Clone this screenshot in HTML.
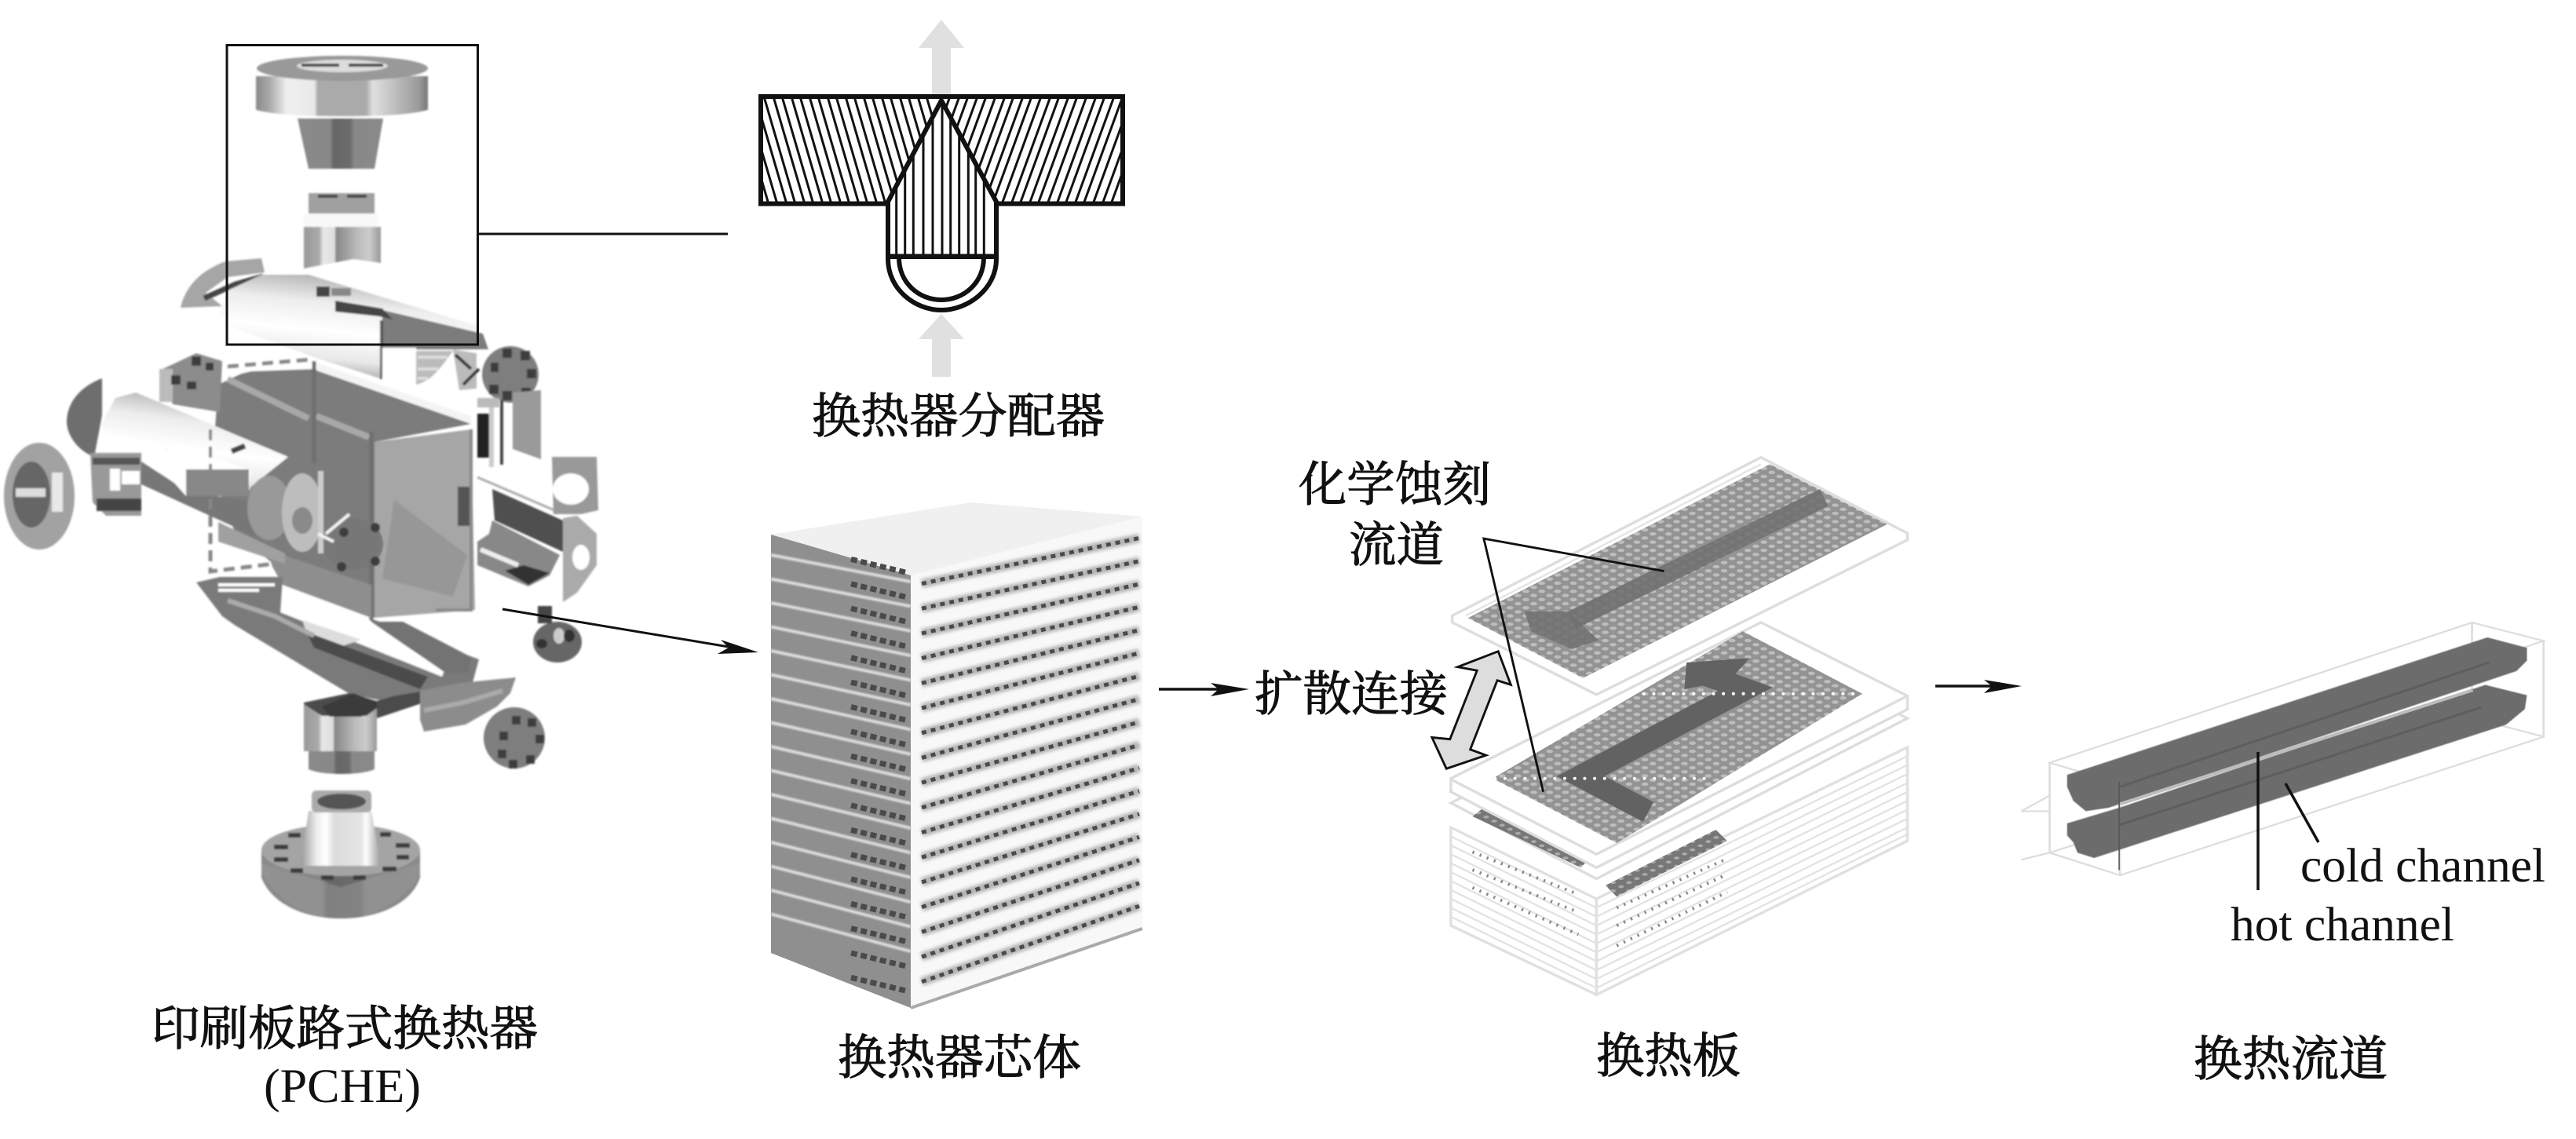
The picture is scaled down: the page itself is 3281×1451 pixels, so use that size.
<!DOCTYPE html>
<html><head><meta charset="utf-8"><style>
html,body{margin:0;padding:0;background:#fff}
svg{display:block}
.c{font-family:"Liberation Serif","Noto Serif CJK SC",serif;font-size:61px;fill:#111}
.k{stroke:#111;stroke-width:1.1}
</style></head><body>
<svg xmlns="http://www.w3.org/2000/svg" width="3281" height="1451" viewBox="0 0 3281 1451">
<defs>
<linearGradient id="m"><stop offset="0" stop-color="#8a8a8a"/><stop offset=".08" stop-color="#aaa"/><stop offset=".18" stop-color="#f0f0f0"/><stop offset=".34" stop-color="#e8e8e8"/><stop offset=".36" stop-color="#aaa"/><stop offset=".64" stop-color="#aaa"/><stop offset=".68" stop-color="#e0e0e0"/><stop offset=".82" stop-color="#bbb"/><stop offset=".95" stop-color="#999"/><stop offset="1" stop-color="#777"/></linearGradient>
<linearGradient id="h"><stop offset="0" stop-color="#999"/><stop offset=".2" stop-color="#eee"/><stop offset=".32" stop-color="#fff"/><stop offset=".42" stop-color="#ddd"/><stop offset=".75" stop-color="#e4e4e4"/><stop offset=".82" stop-color="#fff"/><stop offset="1" stop-color="#999"/></linearGradient>
<linearGradient id="r"><stop offset="0" stop-color="#999"/><stop offset=".2" stop-color="#aaa"/><stop offset=".25" stop-color="#e8e8e8"/><stop offset=".4" stop-color="#ddd"/><stop offset=".42" stop-color="#888"/><stop offset=".7" stop-color="#bbb"/><stop offset=".85" stop-color="#ccc"/><stop offset="1" stop-color="#999"/></linearGradient>
<linearGradient id="d"><stop offset="0" stop-color="#8a8a8a"/><stop offset=".38" stop-color="#888"/><stop offset=".42" stop-color="#666"/><stop offset=".62" stop-color="#6c6c6c"/><stop offset=".66" stop-color="#888"/><stop offset="1" stop-color="#8a8a8a"/></linearGradient>
<linearGradient id="t" x1=".6" y1="0" x2=".35" y2="1"><stop offset="0" stop-color="#aaa"/><stop offset=".3" stop-color="#eee"/><stop offset=".55" stop-color="#fff"/><stop offset=".8" stop-color="#e8e8e8"/><stop offset="1" stop-color="#999"/></linearGradient>
<linearGradient id="sr" x1=".6" y1="0" x2=".35" y2="1"><stop offset="0" stop-color="#888"/><stop offset=".5" stop-color="#555"/><stop offset="1" stop-color="#777"/></linearGradient>
<pattern id="g" patternUnits="userSpaceOnUse" width="20" height="20" patternTransform="matrix(.88 -.46 .88 .46 0 0)"><rect width="20" height="20" fill="#939393"/><circle cx="10" cy="10" r="6" fill="#bdbdbd"/></pattern>
<pattern id="g2" patternUnits="userSpaceOnUse" width="20" height="20" patternTransform="matrix(.88 -.46 .88 .46 0 0)"><rect width="20" height="20" fill="#777"/><circle cx="10" cy="10" r="5" fill="#aaa"/></pattern>
<filter id="b"><feGaussianBlur stdDeviation="2.2"/></filter>
<filter id="b1"><feGaussianBlur stdDeviation="1"/></filter>
<clipPath id="hl"><rect x="972" y="123" width="226" height="137"/></clipPath>
<clipPath id="hr"><rect x="1198" y="123" width="230" height="137"/></clipPath>
</defs>
<rect width="3281" height="1451" fill="#fff"/>

<!-- Exploded PCHE -->
<g filter="url(#b1)">
 <!-- top flange -->
 <path d="M326 97V140C350 146 380 148 436 148C492 148 522 146 545 140V97Z" fill="url(#m)"/>
 <ellipse cx="436" cy="87" rx="109" ry="16" fill="#999"/>
 <ellipse cx="436" cy="84" rx="58" ry="8" fill="#ddd"/>
 <path d="M384 83H432M444 83H488" stroke="#444" stroke-width="4"/>
 <polygon points="379,151 488,151 477,215 393,215" fill="url(#d)"/>
 <!-- ring -->
 <rect x="393" y="246" width="84" height="26" fill="#a0a0a0"/>
 <path d="M405 250H430M442 250H467" stroke="#444" stroke-width="4"/>
 <rect x="387" y="272" width="94" height="17" fill="#f8f8f8"/>
 <path d="M387 289H485V335L450 330L387 342Z" fill="url(#r)"/>
 <!-- saddle upper left -->
 <path d="M230 392C236 365 255 345 287 333L333 329L337 347L290 353L262 373L283 390Z" fill="#a6a6a6"/>
 <path d="M260 380L300 362L335 352" stroke="#444" stroke-width="7" fill="none"/>
 <!-- upper tube -->
 <polygon points="278,408 290,370 333,350 393,350 608,415 608,440 487,445 487,483 400,455 290,415" fill="url(#t)"/>
 <polygon points="487,395 615,425 622,445 487,445" fill="#7c7c7c"/>
 <polygon points="427,383 487,393 500,407 483,403 427,397" fill="#444"/>
 <rect x="403" y="365" width="17" height="13" fill="#444"/>
 <rect x="422" y="367" width="25" height="10" fill="#888"/>
 <path d="M486 408V483" stroke="#555" stroke-width="4"/>
 <path d="M487 443H530V485H487Z" fill="#fff"/>
 <path d="M530 447H577C560 470 550 485 530 490Z" fill="#bbb"/>
 <path d="M532 455H570M532 470H558M532 482H545" stroke="#ddd" stroke-width="4"/>
 <path d="M577 445L607 450V495L585 497Z" fill="#bbb"/>
 <path d="M580 452L600 470M590 490L610 470" stroke="#333" stroke-width="4"/>
 <!-- right flange -->
 <circle cx="650" cy="477" r="36" fill="#7e7e7e"/>
 <g fill="#3c3c3c"><rect x="640" y="444" width="12" height="12"/><rect x="663" y="447" width="12" height="12"/><rect x="671" y="470" width="12" height="12"/><rect x="664" y="494" width="12" height="12"/><rect x="640" y="498" width="12" height="12"/><rect x="623" y="490" width="12" height="12"/><rect x="625" y="462" width="10" height="12"/></g>
 <polygon points="653,500 689,497 689,585 653,572" fill="#9a9a9a"/>
 <rect x="608" y="527" width="15" height="56" fill="#222"/>
 <rect x="623" y="515" width="6" height="80" fill="#ccc"/><rect x="637" y="510" width="4" height="82" fill="#444"/>
 <rect x="608" y="507" width="28" height="12" fill="#bbb"/>
 <!-- box -->
 <polygon points="278,490 320,470 403,470 600,540 477,563 477,787 395,755 300,680 270,600" fill="#7c7c7c"/>
 <polygon points="403,462 600,530 600,540 403,472" fill="#f4f4f4"/>
 <polygon points="290,467 403,458 403,470 320,473 290,480" fill="#fff"/>
 <path d="M290 483L393 533M403 530L470 557" stroke="#a8a8a8" stroke-width="8"/>
 <polygon points="477,563 600,547 605,777 477,787" fill="#a6a6a6"/>
 <polygon points="502,637 595,707 577,760 487,737" fill="#979797"/>
 <rect x="583" y="620" width="17" height="50" fill="#555"/>
 <path d="M600 547V777H555" stroke="#8a8a8a" stroke-width="4" fill="none"/>
 <path d="M473 550V790M400 460V590" stroke="#6e6e6e" stroke-width="5"/>
 <path d="M268 547V728L350 718M290 467L397 458" stroke="#888" stroke-width="5" stroke-dasharray="14 8" fill="none"/>
 <polygon points="340,700 473,745 473,787 360,745 347,722" fill="#8e8e8e"/>
 <polygon points="278,665 363,705 363,718 278,690" fill="#a0a0a0"/>
 <!-- upper-left bolted piece -->
 <polygon points="203,472 250,450 283,460 280,525 220,515" fill="#8c8c8c"/>
 <rect x="203" y="470" width="17" height="42" fill="#bbb"/>
 <g fill="#3c3c3c"><rect x="244" y="454" width="12" height="12"/><rect x="262" y="462" width="10" height="10"/><rect x="218" y="478" width="12" height="12"/><rect x="238" y="486" width="12" height="10"/></g>
 <!-- left tube -->
 <path d="M130 482C95 495 85 520 85 537C85 555 100 575 120 582L128 540L130 528Z" fill="#6e6e6e"/>
 <polygon points="180,588 237,625 322,640 322,682 180,617" fill="#777"/>
 <polygon points="128,543 147,507 173,500 367,582 320,620 315,630 240,600 200,565 135,552" fill="url(#t)"/>
 <polygon points="200,590 225,563 320,600 315,632 237,632" fill="#fff"/>
 <rect x="237" y="598" width="80" height="34" fill="#888"/>
 <path d="M295 575L312 568" stroke="#444" stroke-width="7"/>
 <path d="M268 547V650" stroke="#888" stroke-width="4" stroke-dasharray="14 8"/>
 <ellipse cx="343" cy="647" rx="28" ry="41" fill="#999"/>
 <ellipse cx="385" cy="653" rx="26" ry="50" fill="#bdbdbd"/>
 <ellipse cx="385" cy="663" rx="13" ry="17" fill="#8a8a8a"/>
 <rect x="405" y="600" width="7" height="105" fill="#ccc"/>
 <ellipse cx="450" cy="693" rx="38" ry="33" fill="#777"/>
 <path d="M405 680L425 690M415 680L445 655" stroke="#f4f4f4" stroke-width="4"/>
 <g fill="#3c3c3c"><circle cx="478" cy="672" r="6"/><circle cx="478" cy="715" r="6"/><circle cx="438" cy="678" r="6"/><circle cx="435" cy="722" r="6"/></g>
 <!-- small ring -->
 <path d="M115 577H180V657H135L118 640Z" fill="#999"/>
 <rect x="140" y="597" width="13" height="28" fill="#fff"/><rect x="155" y="600" width="23" height="17" fill="#fff"/>
 <rect x="123" y="635" width="57" height="16" fill="#444"/>
 <rect x="118" y="583" width="60" height="9" fill="#555"/>
 <!-- left flange -->
 <ellipse cx="50" cy="632" rx="45" ry="68" fill="#a2a2a2"/>
 <ellipse cx="40" cy="630" rx="24" ry="42" fill="#666"/>
 <rect x="20" y="622" width="38" height="11" fill="#ddd"/>
 <rect x="66" y="602" width="14" height="50" fill="#e8e8e8"/>
 <!-- right tube -->
 <path d="M608 608L713 653" stroke="#aaa" stroke-width="3"/>
 <polygon points="627,623 717,663 717,703 630,663" fill="#505050"/>
 <polygon points="627,663 713,707 700,733 673,747 608,720 608,690 623,680" fill="#888"/>
 <polygon points="643,727 667,720 700,730 673,745" fill="#333"/>
 <path d="M612 700L660 720" stroke="#eee" stroke-width="6"/>
 <path d="M703 582H760L762 650L740 655H705Z" fill="#999"/>
 <ellipse cx="727" cy="623" rx="23" ry="20" fill="#fff"/>
 <polygon points="717,660 735,657 760,680 760,720 735,755 717,767" fill="#aaa"/>
 <ellipse cx="740" cy="710" rx="11" ry="16" fill="#fff"/>
 <!-- small valve -->
 <ellipse cx="710" cy="818" rx="31" ry="26" fill="#666"/>
 <ellipse cx="712" cy="810" rx="7" ry="10" fill="#ccc"/>
 <rect x="685" y="772" width="18" height="22" fill="#444"/>
 <ellipse cx="725" cy="810" rx="7" ry="8" fill="#333"/>
 <ellipse cx="690" cy="820" rx="7" ry="6" fill="#333"/>
 <!-- lower tube -->
 <polygon points="250,742 280,735 360,735 357,780 567,857 600,837 513,792 473,792 470,787 610,840 595,895 500,895 447,885 300,797 283,785" fill="#7a7a7a"/>
 <polygon points="357,780 383,775 473,805 567,850 563,862" fill="#fff"/>
 <polygon points="385,790 460,815 430,825 390,805" fill="#ddd"/>
 <polygon points="390,805 545,862 535,878 400,825" fill="#4c4c4c"/>
 <polygon points="473,792 513,792 600,837 597,857 567,857" fill="#737373"/>
 <path d="M278 745H350M278 752H330" stroke="#fff" stroke-width="4"/>
 <path d="M290 765L350 785L400 810" stroke="#aaa" stroke-width="6" fill="none"/>
 <!-- lower ring -->
 <polygon points="387,895 445,883 480,893 500,887 540,880 540,895 480,915 410,915 387,905" fill="#4c4c4c"/>
 <path d="M387 897L410 912H467L480 902V957H387Z" fill="url(#r)"/>
 <polygon points="410,900 450,883 480,895 480,902 460,913 420,913" fill="#3a3a3a"/>
 <path d="M393 957H477V980C460 988 410 988 393 980Z" fill="url(#d)"/>
 <!-- side saddle + flange -->
 <polygon points="535,880 587,870 657,863 650,883 633,900 593,923 540,932 535,917" fill="#8c8c8c"/>
 <path d="M540 905L590 895L640 880" stroke="#aaa" stroke-width="6" fill="none"/>
 <circle cx="655" cy="940" r="39" fill="#7e7e7e"/>
 <g fill="#3c3c3c"><rect x="652" y="912" width="11" height="11"/><rect x="672" y="915" width="11" height="11"/><rect x="682" y="936" width="11" height="11"/><rect x="670" y="962" width="11" height="11"/><rect x="648" y="968" width="11" height="11"/><rect x="634" y="955" width="11" height="11"/><rect x="636" y="932" width="11" height="11"/></g>
 <!-- bottom flange -->
 <path d="M333 1085V1118C345 1150 385 1170 434 1170C483 1170 525 1150 535 1118V1085Z" fill="url(#d)"/>
 <path d="M333 1110C345 1140 385 1170 434 1170C483 1170 525 1140 535 1110V1100L434 1130L333 1100Z" fill="#999" opacity=".5"/>
 <ellipse cx="434" cy="1083" rx="101" ry="33" fill="#a4a4a4"/>
 <g fill="#3c3c3c"><rect x="367" y="1061" width="16" height="6"/><rect x="349" y="1076" width="18" height="6"/><rect x="349" y="1092" width="18" height="6"/><rect x="370" y="1106" width="16" height="6"/><rect x="409" y="1115" width="16" height="6"/><rect x="450" y="1115" width="16" height="6"/><rect x="487" y="1104" width="18" height="6"/><rect x="504" y="1074" width="18" height="6"/><rect x="505" y="1089" width="16" height="6"/><rect x="484" y="1060" width="14" height="6"/></g>
 <polygon points="393,1033 473,1033 485,1103 383,1103" fill="url(#h)"/>
 <rect x="397" y="1007" width="76" height="28" rx="6" fill="#aaa"/>
 <ellipse cx="435" cy="1021" rx="31" ry="10" fill="#555"/>
</g>

<!-- box + connector -->
<rect x="289" y="57.5" width="319.5" height="381.5" fill="none" stroke="#111" stroke-width="3"/>
<line x1="609" y1="298" x2="927" y2="298" stroke="#111" stroke-width="3"/>
<!-- arrow 1 -->
<line x1="640" y1="776" x2="940" y2="826" stroke="#111" stroke-width="3"/>
<polygon points="966,831 918,815 928,825 914,833" fill="#111"/>

<!-- weld cross-section -->
<polygon points="1187,120 1211,120 1211,61 1228,61 1199,25 1170,61 1187,61" fill="#e0e0e0"/>
<polygon points="1187,480 1211,480 1211,432 1228,432 1199,400 1170,432 1187,432" fill="#e0e0e0"/>
<g clip-path="url(#hl)" stroke="#111" stroke-width="3">
<path d="M939 123L979 260M950 123L990 260M962 123L1002 260M973 123L1013 260M985 123L1025 260M996 123L1036 260M1008 123L1048 260M1019 123L1059 260M1031 123L1071 260M1042 123L1082 260M1054 123L1094 260M1065 123L1105 260M1077 123L1117 260M1088 123L1128 260M1100 123L1140 260M1111 123L1151 260M1123 123L1163 260M1134 123L1174 260M1146 123L1186 260M1157 123L1197 260M1169 123L1209 260M1180 123L1220 260"/>
</g>
<g clip-path="url(#hr)" stroke="#111" stroke-width="3">
<path d="M1210 123L1160 260M1222 123L1172 260M1233 123L1183 260M1245 123L1195 260M1256 123L1206 260M1268 123L1218 260M1280 123L1230 260M1291 123L1241 260M1303 123L1253 260M1314 123L1264 260M1326 123L1276 260M1338 123L1288 260M1349 123L1299 260M1361 123L1311 260M1372 123L1322 260M1384 123L1334 260M1396 123L1346 260M1407 123L1357 260M1419 123L1369 260M1430 123L1380 260M1442 123L1392 260M1454 123L1404 260M1465 123L1415 260M1477 123L1427 260"/>
</g>
<rect x="969" y="123" width="461" height="136.5" fill="none" stroke="#111" stroke-width="6"/>
<polygon points="1199,130 1269,257 1269,328 1131,328 1131,257" fill="#fff"/>
<rect x="1134" y="255" width="132" height="8" fill="#fff"/>
<path d="M1141.7 237V327M1152.7 216V327M1163.3 197V327M1176 173V327M1188 150V327M1200 130V327M1210.7 152V327M1221.7 172V327M1233.3 194V327M1242.7 212V327M1253.3 232V327" stroke="#111" stroke-width="3"/>
<path d="M1199 128L1131 257V330C1131 368 1165 395 1199 395C1233 395 1269 368 1269 330V257Z" fill="none" stroke="#111" stroke-width="6" stroke-linejoin="round"/>
<path d="M1145 328C1145 360 1170 382 1199 382C1228 382 1253 360 1253 328" fill="none" stroke="#111" stroke-width="6"/>
<rect x="1131" y="323.5" width="138" height="6.5" fill="#111"/>
<text class="c k" x="1034" y="551" textLength="373" lengthAdjust="spacingAndGlyphs">换热器分配器</text>

<!-- core -->
<polygon points="982,681 1237,640 1455,658 1160,733" fill="#f0f0f0"/>
<polygon points="982,681 1160,733 1160,1284 982,1214" fill="#8f8f8f"/>
<polygon points="1160,733 1455,658 1455,1183 1160,1284" fill="#f8f8f8"/>
<path d="M982 707L1160 741M982 737.5L1160 772.4M982 768L1160 803.8M982 798.5L1160 835.2M982 829L1160 866.6M982 859.5L1160 898M982 890L1160 929.4M982 920.5L1160 960.8M982 951L1160 992.2M982 981.5L1160 1023.6M982 1012L1160 1055M982 1042.5L1160 1086.4M982 1073L1160 1117.8M982 1103.5L1160 1149.2M982 1134L1160 1180.6M982 1164.5L1160 1212" stroke="#dcdcdc" stroke-width="4" fill="none" filter="url(#b1)"/>
<path d="M1084 712.4L1153 729M1084 743.8L1153 760.4M1084 775.1L1153 791.7M1084 806.5L1153 823.1M1084 837.8L1153 854.4M1084 869.2L1153 885.8M1084 900.5L1153 917.1M1084 931.9L1153 948.5M1084 963.2L1153 979.8M1084 994.6L1153 1011.2M1084 1025.9L1153 1042.5M1084 1057.3L1153 1073.9M1084 1088.6L1153 1105.2M1084 1119.9L1153 1136.5M1084 1151.3L1153 1167.9M1084 1182.6L1153 1199.2M1084 1214L1153 1230.6M1084 1245.3L1153 1261.9" stroke="#4a4a4a" stroke-width="7" stroke-dasharray="8 4.6" fill="none"/>
<path d="M1174 743.5L1451 685.5M1174 775.2L1451 714.8M1174 806.9L1451 744.1M1174 838.6L1451 773.4M1174 870.3L1451 802.7M1174 902L1451 832M1174 933.7L1451 861.3M1174 965.4L1451 890.6M1174 997.1L1451 919.9M1174 1028.8L1451 949.2M1174 1060.5L1451 978.5M1174 1092.2L1451 1007.8M1174 1123.9L1451 1037.1M1174 1155.6L1451 1066.4M1174 1187.3L1451 1095.7M1174 1219L1451 1125M1174 1250.7L1451 1154.3" stroke="#b4b4b4" stroke-width="11" fill="none" filter="url(#b)"/>
<path d="M1174 743.5L1451 685.5M1174 775.2L1451 714.8M1174 806.9L1451 744.1M1174 838.6L1451 773.4M1174 870.3L1451 802.7M1174 902L1451 832M1174 933.7L1451 861.3M1174 965.4L1451 890.6M1174 997.1L1451 919.9M1174 1028.8L1451 949.2M1174 1060.5L1451 978.5M1174 1092.2L1451 1007.8M1174 1123.9L1451 1037.1M1174 1155.6L1451 1066.4M1174 1187.3L1451 1095.7M1174 1219L1451 1125M1174 1250.7L1451 1154.3" stroke="#4a4a4a" stroke-width="5" stroke-dasharray="6 6" fill="none"/>
<path d="M1160 1284L1455 1183" stroke="#aaa" stroke-width="4"/>
<text class="c k" x="1067" y="1368" textLength="310" lengthAdjust="spacingAndGlyphs">换热器芯体</text>

<!-- arrow 2 -->
<line x1="1476" y1="878" x2="1560" y2="878" stroke="#111" stroke-width="3.5"/>
<polygon points="1591,878 1542,870 1552,878 1542,887" fill="#111"/>
<text class="c k" x="1598" y="905" textLength="246" lengthAdjust="spacingAndGlyphs">扩散连接</text>

<!-- plates -->
<g transform="translate(1600 560) scale(.574 .568)">
 <g fill="#fff" stroke="#e0e0e0" stroke-width="6">
  <polygon points="432,870 755,1030 755,1245 432,1090"/>
  <polygon points="755,1030 1445,690 1445,900 755,1245"/>
 </g>
 <path d="M432 890L755 1050M432 910L755 1070M432 930L755 1090M432 950L755 1110M432 970L755 1130M432 990L755 1150M432 1010L755 1170M432 1030L755 1190M432 1050L755 1210M432 1070L755 1230M755 1050L1445 710M755 1070L1445 730M755 1090L1445 750M755 1110L1445 770M755 1130L1445 790M755 1150L1445 810M755 1170L1445 830M755 1190L1445 850M755 1210L1445 870M755 1230L1445 885" stroke="#e2e2e2" stroke-width="4" fill="none"/>
 <path d="M480 925L715 1020M480 965L715 1060M480 1005L715 1110M800 1050L1045 940M800 1090L1045 975M800 1135L1045 1015" stroke="#888" stroke-width="7" stroke-dasharray="4 13" fill="none"/>
 <polygon points="432,815 755,985 1445,625 1120,465" fill="#fff" stroke="#ddd" stroke-width="6"/>
 <polygon points="480,845 505,825 745,935 720,960" fill="url(#g2)"/>
 <polygon points="775,1000 1020,875 1045,900 800,1025" fill="url(#g2)"/>
 <polygon points="432,760 432,790 755,960 1445,605 1445,575 1120,410" fill="#fff" stroke="#ddd" stroke-width="6"/>
 <path d="M432 762L755 930L1445 575" stroke="#ddd" stroke-width="6" fill="none"/>
 <polygon points="525,760 1080,430 1345,570 800,905" fill="url(#g)"/>
 <path d="M870 835L720 755L1085 560L990 525" stroke="#626262" stroke-width="50" fill="none"/>
 <polygon points="955,500 1095,490 1050,540 950,560" fill="#626262"/>
 <path d="M860 570H1340M530 760H1000" stroke="#fff" stroke-width="7" stroke-linecap="round" stroke-dasharray=".1 22" fill="none"/>
 <polygon points="435,395 435,410 755,572 1445,225 1445,210 1120,40" fill="#fff" stroke="#ddd" stroke-width="6"/>
 <path d="M1120 55L465 395" stroke="#e4e4e4" stroke-width="4"/>
 <polygon points="470,400 1140,55 1400,190 725,535" fill="url(#g)"/>
 <path d="M700 405L1260 130" stroke="#6e6e6e" stroke-width="42" fill="none" opacity=".85"/>
 <polygon points="595,385 690,385 760,450 700,470 610,430" fill="#707070" opacity=".85"/>
 <!-- leaders -->
 <path d="M905 295L505 222L637 790" stroke="#111" stroke-width="5" fill="none"/>
 <polygon points="537,475 565,550 535,540 475,695 510,708 422,738 390,668 430,672 490,518 447,510" fill="#ddd" stroke="#111" stroke-width="5"/>
</g>
<text class="c k" x="1654" y="638" textLength="245" lengthAdjust="spacingAndGlyphs">化学蚀刻</text>
<text class="c k" x="1718" y="715" textLength="121" lengthAdjust="spacingAndGlyphs">流道</text>
<text class="c k" x="2033" y="1366" textLength="184" lengthAdjust="spacingAndGlyphs">换热板</text>

<!-- channels -->
<line x1="2465" y1="874" x2="2550" y2="874" stroke="#111" stroke-width="3.5"/>
<polygon points="2575,874 2527,866 2537,874 2527,883" fill="#111"/>
<g transform="translate(2450 760) scale(.53 .441)">
 <path d="M303 480L1318 75L1490 128L472 540ZM303 480V740L472 805L1490 405V128M472 540V805M1318 75V350M303 740L1318 350L1490 405M235 620L303 575M235 620H303M235 760L303 740" stroke="#ddd" stroke-width="5" fill="none"/>
 <g filter="url(#b1)">
 <polygon points="345,515 1355,118 1450,148 1450,185 1425,215 445,610 390,620 360,590 345,550" fill="#6c6c6c"/>
 <polygon points="345,655 470,610 1350,255 1450,285 1445,325 1400,370 410,755 370,740 360,710 345,690" fill="#6c6c6c"/>
 <path d="M470 550L1360 190M470 660L1340 320" stroke="#5c5c5c" stroke-width="6"/>
 </g>
 <path d="M470 600L1320 270" stroke="#bcbcbc" stroke-width="9"/>
 <path d="M470 535V790" stroke="#555" stroke-width="3"/>
</g>
<line x1="2876" y1="958" x2="2876" y2="1134" stroke="#111" stroke-width="3.5"/>
<line x1="2911" y1="998" x2="2953" y2="1073" stroke="#111" stroke-width="3.5"/>
<text class="c" x="2930" y="1123" textLength="312" lengthAdjust="spacingAndGlyphs">cold channel</text>
<text class="c" x="2841" y="1198" textLength="285" lengthAdjust="spacingAndGlyphs">hot channel</text>
<text class="c k" x="2794" y="1370" textLength="247" lengthAdjust="spacingAndGlyphs">换热流道</text>

<text class="c k" x="193" y="1331" textLength="492" lengthAdjust="spacingAndGlyphs">印刷板路式换热器</text>
<text class="c" x="336" y="1404" textLength="200" lengthAdjust="spacingAndGlyphs">(PCHE)</text>
</svg>
</body></html>
